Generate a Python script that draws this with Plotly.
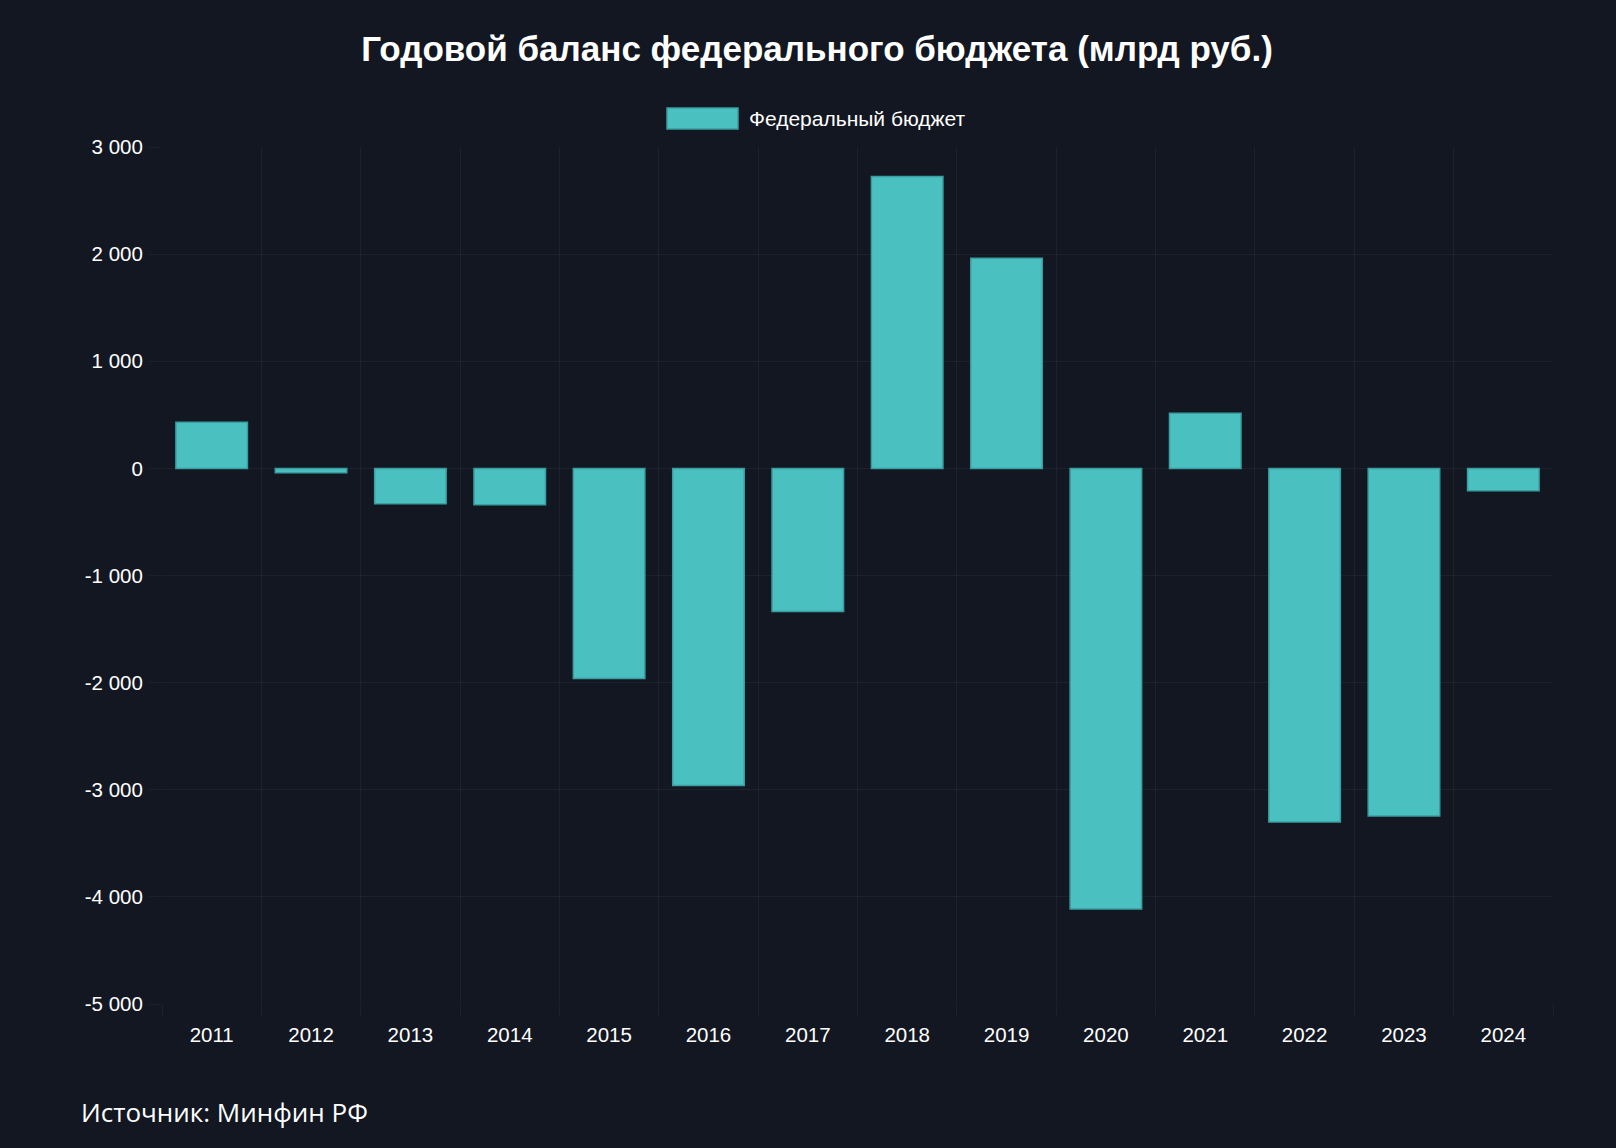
import plotly.graph_objects as go

# ---- data ----
years = ["2011", "2012", "2013", "2014", "2015", "2016", "2017",
         "2018", "2019", "2020", "2021", "2022", "2023", "2024"]
balance = [430, -40, -330, -340, -1961, -2960, -1335,
           2725, 1962, -4114, 515, -3300, -3245, -208]
series_name = "Федеральный бюджет"
title_text = "Годовой баланс федерального бюджета (млрд руб.)"
source_text = "Источник: Минфин РФ"
y_tick_values = [3000, 2000, 1000, 0, -1000, -2000, -3000, -4000, -5000]
y_tick_labels = ["3 000", "2 000", "1 000", "0", "-1 000", "-2 000", "-3 000", "-4 000", "-5 000"]

BG = "#131722"
BAR = "#4BC0C0"
BAR_EDGE = "#3a9d9f"
GRID = "rgba(255,255,255,0.045)"
TXT = "#ffffff"

W, H = 1616, 1148
L, R, T, B = 162, 63, 147, 144
pw, ph = W - L - R, H - T - B


def px_x(x):
    return (x - L) / pw


def px_y(y):
    return (H - B - y) / ph


fig = go.Figure()
fig.add_trace(go.Bar(
    x=years, y=balance, name=series_name,
    marker=dict(color=BAR, line=dict(color=BAR_EDGE, width=1.5)),
    showlegend=False,
))

fig.update_layout(
    width=W, height=H,
    paper_bgcolor=BG, plot_bgcolor=BG,
    margin=dict(l=L, r=R, t=T, b=B),
    bargap=0.28,
    font=dict(family="Liberation Sans, Arial, sans-serif", color=TXT, size=20),
    title=dict(text="<b>" + title_text + "</b>", x=817 / W, xref="container", xanchor="center",
               y=1 - 49 / H, yref="container", yanchor="middle",
               font=dict(size=35, family="Liberation Sans, Arial, sans-serif", color=TXT)),
    xaxis=dict(type="category", tickson="boundaries", showgrid=True, gridcolor=GRID, gridwidth=1,
               ticks="outside", ticklen=12, tickcolor=GRID, showline=False, zeroline=False,
               tickfont=dict(size=20.5, color=TXT), ticklabelstandoff=16),
    yaxis=dict(range=[-5000, 3000], tickvals=y_tick_values, ticktext=y_tick_labels,
               showgrid=True, gridcolor=GRID, gridwidth=1, zeroline=False, showline=False,
               ticks="outside", ticklen=12, tickcolor=GRID,
               tickfont=dict(size=20.5, color=TXT), ticklabelstandoff=2),
    showlegend=False,
)

# legend drawn as swatch + label
fig.add_shape(type="rect", xref="paper", yref="paper",
              x0=px_x(667), x1=px_x(738), y0=px_y(129), y1=px_y(108),
              fillcolor=BAR, line=dict(color=BAR_EDGE, width=1.5))
fig.add_annotation(text=series_name, xref="paper", yref="paper",
                   x=px_x(747), y=px_y(118.5), xanchor="left", yanchor="middle",
                   showarrow=False, font=dict(size=21, color=TXT,
                                              family="Liberation Sans, Arial, sans-serif"))

fig.add_annotation(text=source_text, xref="paper", yref="paper",
                   x=px_x(79), y=px_y(1112), xanchor="left", yanchor="middle",
                   showarrow=False, font=dict(size=26, color=TXT, family="Open Sans, Noto Sans, sans-serif"))

fig.write_html("out.html", config={"displayModeBar": False},
               post_script="document.body.style.margin='0';document.body.style.background='#131722';")
